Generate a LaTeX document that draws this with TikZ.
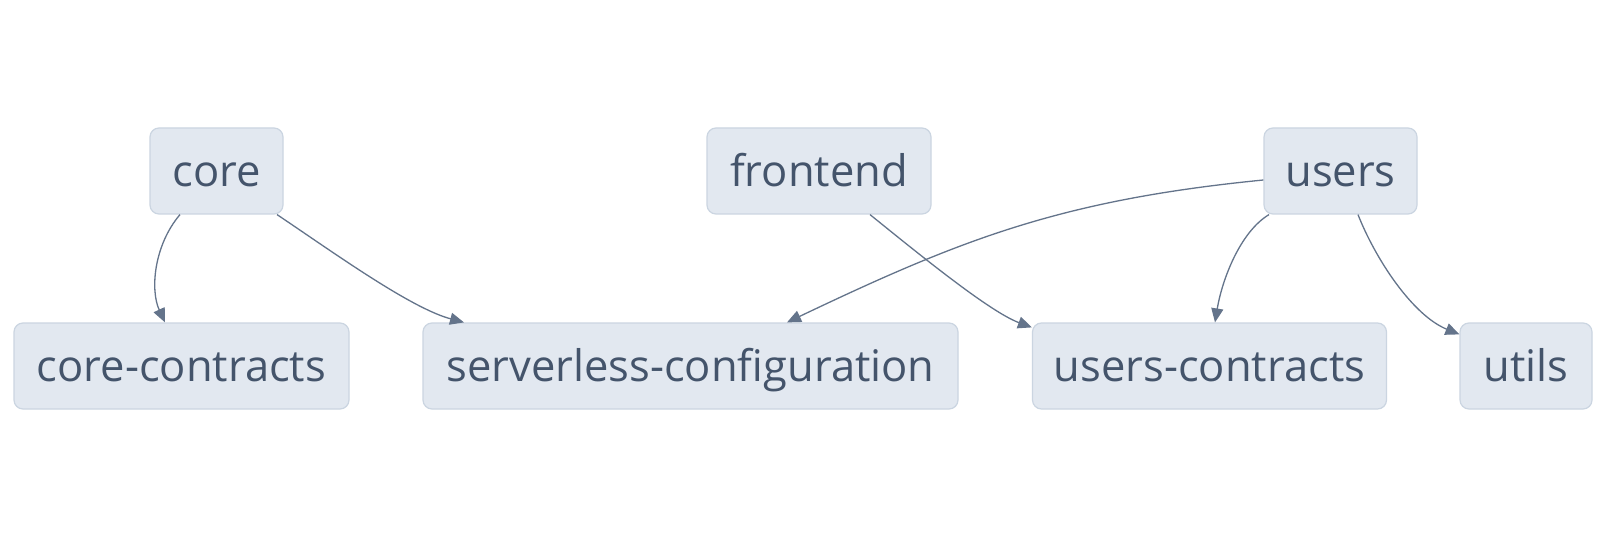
\documentclass[tikz,border=0pt]{standalone}
\usepackage{fontspec}
\setmainfont{Open Sans}
\usetikzlibrary{arrows.meta,calc}
\definecolor{boxfill}{HTML}{E2E8F0}
\definecolor{boxline}{HTML}{CBD5E1}
\definecolor{edgecol}{HTML}{64748B}
\definecolor{txtcol}{HTML}{44546B}
\tikzset{
  pkg/.style={draw=boxline, line width=1.2pt, fill=boxfill, rounded corners=9pt,
    minimum height=86pt, inner sep=0pt, text=txtcol,
    text height=35.8pt, text depth=5pt,
    font=\fontsize{43.5}{50}\selectfont},
  dep/.style={draw=edgecol, line width=1.3pt, -{Triangle[length=14pt,width=12pt]}},
}
\begin{document}
\begin{tikzpicture}[x=1pt,y=-1pt]
\useasboundingbox (0,0) rectangle (1607,540);
\fill[white] (0,0) rectangle (1607,540);
\node[pkg, minimum width=133pt] (core) at (216.5,171) {core};
\node[pkg, minimum width=224pt] (frontend) at (819,171) {frontend};
\node[pkg, minimum width=153pt] (users) at (1340.5,171) {users};
\node[pkg, minimum width=335pt] (corec) at (181.5,366) {core-contracts};
\node[pkg, minimum width=535pt] (slc) at (690.5,366) {serverless-configuration};
\node[pkg, minimum width=354pt] (usersc) at (1209.5,366) {users-contracts};
\node[pkg, minimum width=132pt] (utils) at (1526,366) {utils};
% edges
\draw[dep] ([xshift=-36.5pt]core.south) .. controls (154,245) and (150,290) .. ([xshift=-16.5pt]corec.north);
\draw[dep] ([xshift=60.5pt]core.south) .. controls (330,250) and (410,308) .. ([xshift=-226.5pt]slc.north);
\draw[dep] ([xshift=51pt]frontend.south) .. controls (920,255) and (990,312) .. ([yshift=-5pt]usersc.north west);
\draw[dep] ([yshift=-9pt]users.west) .. controls (1060,200) and (960,240) .. ([xshift=96.5pt]slc.north);
\draw[dep] ([xshift=-71.5pt]users.south) .. controls (1240,232) and (1222,280) .. ([xshift=5.5pt]usersc.north);
\draw[dep] ([xshift=17.5pt]users.south) .. controls (1375,258) and (1412,315) .. ([yshift=-12pt]utils.north west);
\end{tikzpicture}
\end{document}
